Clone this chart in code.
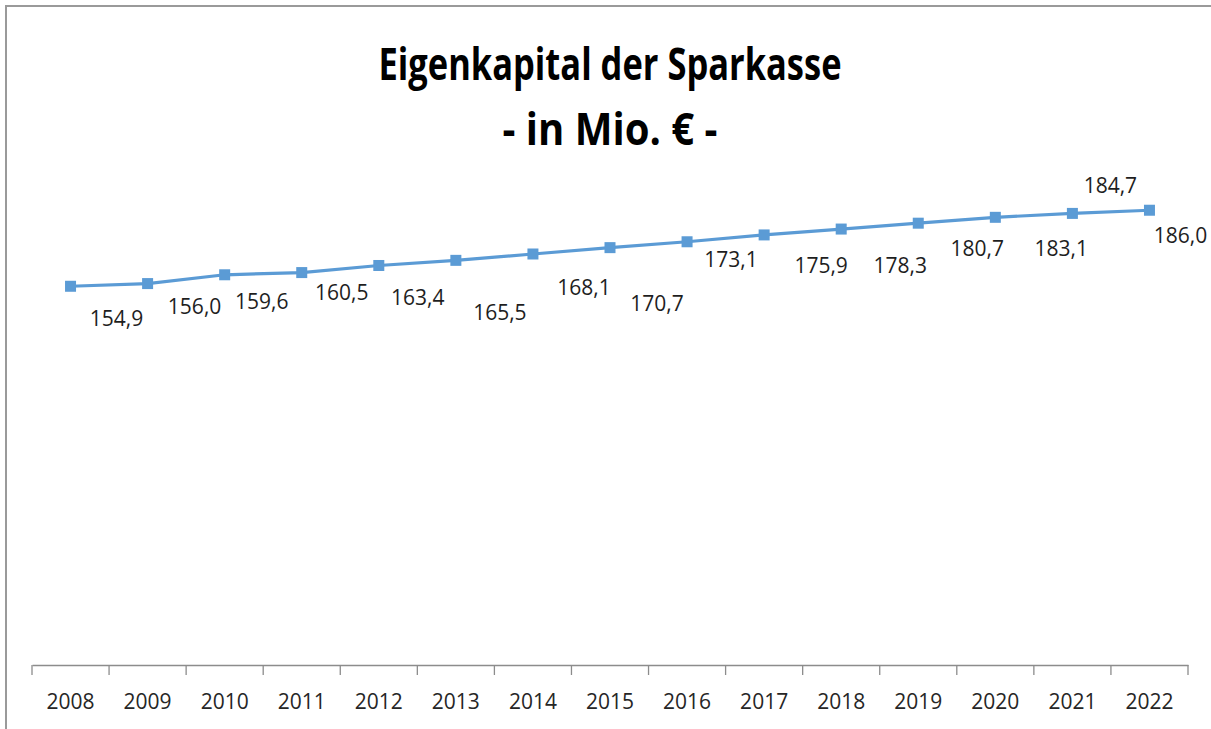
<!DOCTYPE html>
<html>
<head>
<meta charset="utf-8">
<script src="https://cdn.jsdelivr.net/npm/d3@7"></script>
<style>
  html, body { margin: 0; padding: 0; background: #fff; }
  svg { display: block; }
</style>
</head>
<body>
<div id="chart"></div>
<script>
/**
 * DATA
 * */
const years = ["2008", "2009", "2010", "2011", "2012", "2013", "2014", "2015",
  "2016", "2017", "2018", "2019", "2020", "2021", "2022"];
const equity = [154.9, 156.0, 159.6, 160.5, 163.4, 165.5, 168.1, 170.7,
  173.1, 175.9, 178.3, 180.7, 183.1, 184.7, 186.0];
const titleLines = ["Eigenkapital der Sparkasse", "- in Mio. € -"];

// the labels in the original were dragged around by hand, so each one gets its own nudge
const labelNudge = [
  [46, 32], [47, 23], [37, 27], [40, 20], [39, 32], [44, 52], [51, 34], [47, 56],
  [44, 18], [57, 31], [59, 37], [59, 25], [66, 31], [38, -28], [31, 25]
];

/**
 * CONSTANTS
 * */
const width = 1211,
  height = 729,
  margin = { top: 176, bottom: 64, left: 32, right: 23 };

const fmt = v => d3.format(".1f")(v).replace(".", ",");

const svg = d3
  .select("#chart")
  .append("svg")
  .attr("width", width)
  .attr("height", height);

// chart frame (only top and left edges are inside the picture)
svg
  .append("rect")
  .attr("x", 6)
  .attr("y", 6)
  .attr("width", width + 20)
  .attr("height", height + 20)
  .attr("fill", "none")
  .attr("stroke", "#9a9a9a")
  .attr("stroke-width", 2);

// + SCALES
const x = d3
  .scaleBand()
  .domain(years)
  .range([margin.left, width - margin.right]);

const y = d3
  .scaleLinear()
  .domain([0, 200])
  .range([height - margin.bottom, margin.top]);

// + TITLE
const titleWidths = [463, 215];
const title = svg
  .append("g")
  .attr("font-family", "'Open Sans', sans-serif")
  .attr("font-weight", "bold")
  .attr("font-size", 44)
  .attr("fill", "#000")
  .attr("text-anchor", "middle");

title
  .selectAll("text")
  .data(titleLines)
  .join("text")
  .attr("x", 610)
  .attr("y", (d, i) => 80 + i * 65)
  .attr("textLength", (d, i) => titleWidths[i])
  .attr("lengthAdjust", "spacingAndGlyphs")
  .text(d => d);

// + X AXIS
const xAxis = d3
  .axisBottom(x)
  .tickSize(0)
  .tickPadding(0);

const axisG = svg
  .append("g")
  .attr("transform", `translate(0,${y(0)})`)
  .call(xAxis);

axisG.select(".domain").attr("stroke", "#8c8c8c").attr("stroke-width", 1.3);
axisG
  .selectAll(".tick text")
  .attr("y", 44)
  .attr("dy", 0)
  .attr("font-family", "'Open Sans', sans-serif")
  .attr("font-size", 21)
  .attr("fill", "#262626");

// tick marks sit on the category boundaries
const bounds = years.map(d => x(d)).concat([x(years[years.length - 1]) + x.bandwidth()]);
axisG
  .selectAll(".bound")
  .data(bounds)
  .join("line")
  .attr("class", "bound")
  .attr("x1", d => d)
  .attr("x2", d => d)
  .attr("y1", 0)
  .attr("y2", 10)
  .attr("stroke", "#8c8c8c")
  .attr("stroke-width", 1.3);

// + LINE
const cx = (d, i) => x(years[i]) + x.bandwidth() / 2;

const line = d3
  .line()
  .x(cx)
  .y(d => y(d));

svg
  .append("path")
  .datum(equity)
  .attr("d", line)
  .attr("fill", "none")
  .attr("stroke", "#5b9bd5")
  .attr("stroke-width", 3.2);

const markerSize = 11;
svg
  .selectAll(".marker")
  .data(equity)
  .join("rect")
  .attr("class", "marker")
  .attr("x", (d, i) => cx(d, i) - markerSize / 2)
  .attr("y", d => y(d) - markerSize / 2)
  .attr("width", markerSize)
  .attr("height", markerSize)
  .attr("fill", "#5b9bd5");

// + DATA LABELS
svg
  .selectAll(".label")
  .data(equity)
  .join("text")
  .attr("class", "label")
  .attr("x", (d, i) => cx(d, i) + labelNudge[i][0])
  .attr("y", (d, i) => y(d) + labelNudge[i][1])
  .attr("dy", "0.35em")
  .attr("text-anchor", "middle")
  .attr("font-family", "'Open Sans', sans-serif")
  .attr("font-size", 21)
  .attr("fill", "#1e1e1e")
  .text(d => fmt(d));
</script>
</body>
</html>
